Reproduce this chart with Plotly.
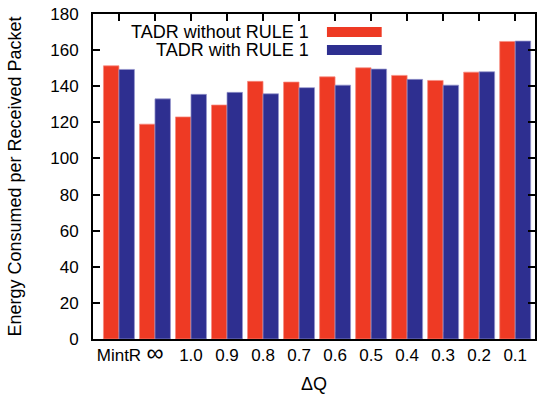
import plotly.graph_objects as go

# Energy consumed per received packet for each ΔQ setting
categories = ["MintR", "∞", "1.0", "0.9", "0.8", "0.7", "0.6", "0.5", "0.4", "0.3", "0.2", "0.1"]
without_rule1 = [151.3, 119.0, 123.0, 129.6, 142.7, 142.3, 145.2, 150.2, 146.0, 143.2, 147.8, 164.8]
with_rule1 = [149.3, 133.0, 135.5, 136.6, 135.8, 139.2, 140.6, 149.5, 143.8, 140.6, 148.0, 165.0]
series_names = ["TADR without RULE 1", "TADR with RULE 1"]
y_ticks = [0, 20, 40, 60, 80, 100, 120, 140, 160, 180]

RED = "#EE3A24"
BLUE = "#2E2F90"
FONT = "Liberation Sans, Arial, Helvetica, sans-serif"

W, H = 538, 397
ML, MR, MT, MB = 93, 1, 14, 58

fig = go.Figure()
fig.add_trace(go.Bar(x=categories, y=without_rule1, name=series_names[0],
                     marker=dict(color=RED, line=dict(color="rgba(246,140,128,0.9)", width=0.8))))
fig.add_trace(go.Bar(x=categories, y=with_rule1, name=series_names[1],
                     marker=dict(color=BLUE, line=dict(color="rgba(150,150,205,0.9)", width=0.8))))

# the infinity label is set a little larger, as a math glyph
tick_text = [f'<span style="font-size:24px">{c}</span>' if c == "∞" else c for c in categories]

fig.update_layout(
    width=W, height=H,
    margin=dict(l=ML, r=MR, t=MT, b=MB),
    paper_bgcolor="white", plot_bgcolor="white",
    barmode="group", bargap=0.14, bargroupgap=0,
    showlegend=False,
    font=dict(family=FONT, size=17, color="black"),
    xaxis=dict(
        type="category", range=[-0.72, 11.55],
        tickmode="array", tickvals=categories, ticktext=tick_text,
        showline=True, linecolor="black", linewidth=2, mirror="allticks",
        ticks="inside", ticklen=7, tickwidth=1.5, tickcolor="black",
        layer="below traces",
        showgrid=False, zeroline=False,
        tickfont=dict(size=17),
        title=dict(text="ΔQ", font=dict(size=18), standoff=12),
    ),
    yaxis=dict(
        range=[0, 180], tickvals=y_ticks,
        showline=True, linecolor="black", linewidth=2, mirror="allticks",
        ticks="inside", ticklen=7, tickwidth=1.5, tickcolor="black",
        showgrid=False, zeroline=False,
        tickfont=dict(size=17), ticklabelstandoff=9,
        title=dict(text="Energy Consumed per Received Packet", font=dict(size=18), standoff=24),
    ),
)

# gnuplot-style key: label text on the left, colour sample on the right
pw, ph = W - ML - MR, H - MT - MB
def px_x(x):
    return (x - ML) / pw
def px_y(y):
    return (H - MB - y) / ph

for name, color, row_y in zip(series_names, [RED, BLUE], [32, 50]):
    fig.add_annotation(x=px_x(312), y=px_y(row_y), xref="paper", yref="paper",
                       text=name, showarrow=False, xanchor="right", yanchor="middle",
                       font=dict(size=18, family=FONT, color="black"))
    fig.add_shape(type="rect", xref="paper", yref="paper",
                  x0=px_x(328), x1=px_x(383), y0=px_y(row_y + 5), y1=px_y(row_y - 5),
                  fillcolor=color, line=dict(width=0))

fig.write_html("out.html")
